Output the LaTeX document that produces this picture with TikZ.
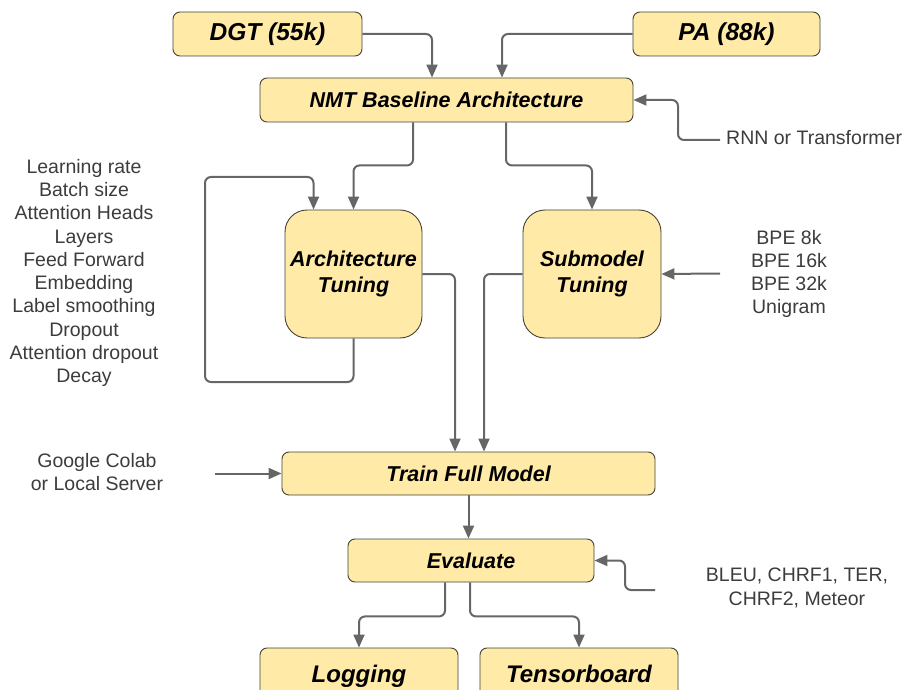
\documentclass[tikz,border=0pt]{standalone}
\usepackage{fontspec}
\setmainfont{Liberation Sans}
\usetikzlibrary{arrows.meta}
\definecolor{boxfill}{RGB}{255,234,168}
\definecolor{boxline}{RGB}{70,66,56}
\definecolor{arrowc}{RGB}{102,102,102}
\definecolor{sidetext}{RGB}{60,60,60}
\tikzset{
  box/.style={draw=boxline, line width=0.9pt, fill=boxfill, rounded corners=7pt,
    font=\fontsize{21.5}{26.5}\selectfont\bfseries\itshape, align=center, inner sep=0pt},
  bigbox/.style={box, rounded corners=22pt},
  arr/.style={draw=arrowc, line width=2pt, rounded corners=6pt,
    -{Triangle[length=13pt,width=11pt]}},
  side/.style={text=sidetext, font=\fontsize{19.5}{23.3}\selectfont, align=center, inner sep=0pt},
}
\begin{document}
\begin{tikzpicture}[x=1pt,y=-1pt]
\useasboundingbox (0,0) rectangle (903,690);
\clip (0,0) rectangle (903,690);
% boxes
\node[box, minimum width=189, minimum height=44, font=\fontsize{24.5}{28}\selectfont\bfseries\itshape] (dgt) at (267.5,34) {DGT (55k)};
\node[box, minimum width=187, minimum height=44, font=\fontsize{24.5}{28}\selectfont\bfseries\itshape] (pa) at (726.5,34) {PA (88k)};
\node[box, minimum width=373, minimum height=44] (nmt) at (446.5,100) {NMT Baseline Architecture};
\node[bigbox, minimum width=137, minimum height=128] (arch) at (353.5,274) {Architecture\\Tuning};
\node[bigbox, minimum width=138, minimum height=128] (sub) at (592,274) {Submodel\\Tuning};
\node[box, minimum width=373, minimum height=43] (train) at (468.5,473.5) {Train Full Model};
\node[box, minimum width=246, minimum height=43] (eval) at (471,560.5) {Evaluate};
\node[box, minimum width=198, minimum height=56, font=\fontsize{24}{28}\selectfont\bfseries\itshape, text depth=0pt] (log) at (359,676) {\raisebox{4pt}{Logging}};
\node[box, minimum width=198, minimum height=56, font=\fontsize{24}{28}\selectfont\bfseries\itshape, text depth=0pt] (tb) at (579,676) {\raisebox{4pt}{Tensorboard}};
% side texts
\node[side, anchor=west] (rnn) at (726,137.5) {RNN or Transformer};
\node[side] (hyper) at (84,273) {Learning rate\\Batch size\\Attention Heads\\Layers\\Feed Forward\\Embedding\\Label smoothing\\Dropout\\Attention dropout\\Decay};
\node[side] (bpe) at (789,274) {BPE 8k\\BPE 16k\\BPE 32k\\Unigram};
\node[side] (colab) at (97,472) {Google Colab\\or Local Server};
\node[side] (metrics) at (797,588) {BLEU, CHRF1, TER,\\CHRF2, Meteor};
% free ends
\coordinate (rnnstart) at (720,140);
\coordinate (bpestart) at (720,273.5);
\coordinate (colabstart) at (215,473.5);
\coordinate (metstart) at (655,590);
% connectors
\draw[arr] (dgt.east) -| ([xshift=-14.5]nmt.north);
\draw[arr] (pa.west) -| ([xshift=55.5]nmt.north);
\draw[arr] (rnnstart) -- (678,140) -- (678,100) -- (nmt.east);
\draw[arr] ([xshift=-33.5]nmt.south) -- ++(0,43) -| (arch.north);
\draw[arr] ([xshift=59.5]nmt.south) -- ++(0,43) -| (sub.north);
\draw[arr] (arch.south) -- (353.5,382) -- (205,382) -- (205,177) -| ([xshift=-40]arch.north);
\draw[arr] (arch.east) -| ([xshift=-13.5]train.north);
\draw[arr] (sub.west) -| ([xshift=15.5]train.north);
\draw[arr] (bpestart) -- (sub.east);
\draw[arr] (colabstart) -- (train.west);
\draw[arr] (train.south) -- (train.south |- eval.north);
\draw[arr] (metstart) -- (625,590) -- (625,560.5) -- (eval.east);
\draw[arr] ([xshift=-26]eval.south) -- ++(0,34) -| (log.north);
\draw[arr] ([xshift=-1]eval.south) -- ++(0,34) -| (tb.north);
\end{tikzpicture}
\end{document}
